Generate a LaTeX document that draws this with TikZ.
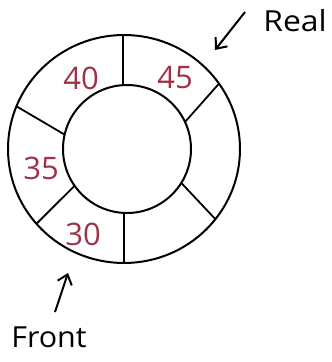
\documentclass[tikz,border=0pt]{standalone}
\usepackage{fontspec}
\setmainfont{Open Sans}
\usetikzlibrary{arrows.meta}
\definecolor{val}{HTML}{9E3348}
\tikzset{
  ring/.style={line width=2pt, black},
  divider/.style={line width=1.8pt, black},
  num/.style={text=val, font=\fontsize{31}{31}\selectfont, inner sep=0pt},
  lbl/.style={text=black, font=\fontsize{29}{29}\selectfont, inner sep=0pt},
  pointer/.style={line width=2pt, -{Straight Barb[length=9pt,width=15pt,line width=2pt]}}
}
\begin{document}
\begin{tikzpicture}[x=1pt,y=-1pt]
\useasboundingbox (0,0) rectangle (332,362);
% rings
\draw[ring] (124,149) ellipse [x radius=116, y radius=114];
\draw[ring] (127,149) circle [radius=64];
% vertical dividers
\draw[divider] (123,35) -- (123,86);
\draw[divider] (124,212) -- (124,263);
% slanted dividers: inner angle / outer angle
\foreach \ai/\ao in {25/35, -32/-38, -145/-139, 167/158}{
  \draw[divider] ({127+64*cos(\ai)},{149-64*sin(\ai)}) -- ({124+116*cos(\ao)},{149-114*sin(\ao)});
}
% values
\node[num] (v40) at (81,78) {40};
\node[num] (v45) at (175,78) {45};
\node[num] (v35) at (41,168) {35};
\node[num] (v30) at (83,234) {30};
% labels
\node[lbl, xscale=1.1] (rear) at (295,21) {Real};
\node[lbl, xscale=1.05] (front) at (49,337) {Front};
\coordinate (rstart) at (245,12);
\coordinate (rtip) at (215,50);
\coordinate (fstart) at (55,312);
\coordinate (ftip) at (68,273);
\draw[pointer] (rstart) -- (rtip);
\draw[pointer] (fstart) -- (ftip);
\end{tikzpicture}
\end{document}
